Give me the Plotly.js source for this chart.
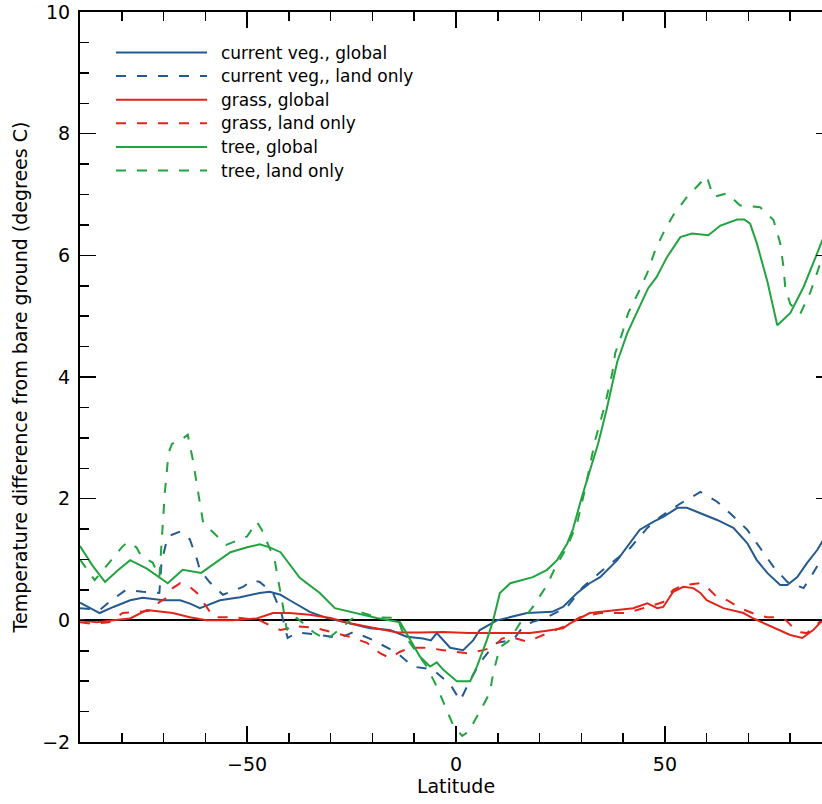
<!DOCTYPE html>
<html>
<head>
<meta charset="utf-8">
<script src="https://cdn.plot.ly/plotly-3.0.1.min.js"></script>
<style>
html,body{margin:0;padding:0;overflow:hidden;background:#fff;}
#chart{width:840px;height:804px;}
</style>
</head>
<body>
<div id="chart"></div>
<script>
// ---- data ----
const vegGlobalX = [-90,-87.5,-85.3,-82,-78,-75,-70,-66,-63.5,-61.3,-58.5,-56.5,-51.7,-47,-44.6,-42,-39.8,-35,-31,-26,-20.6,-15.8,-11.8,-7.9,-6,-4.6,-1.4,1.7,4.1,5.7,9.8,17,23,25.6,29,32,34.5,38.6,41,44,47.2,49.6,53,55.3,58.5,62.5,66.4,69.7,72,74.5,77.6,79.3,81.7,84,86.5,87.7,90];
const vegGlobalY = [0.29,0.2,0.12,0.22,0.33,0.37,0.33,0.33,0.27,0.2,0.27,0.33,0.38,0.45,0.47,0.42,0.33,0.14,0.04,-0.04,-0.13,-0.16,-0.27,-0.3,-0.33,-0.21,-0.45,-0.49,-0.33,-0.16,0.0,0.12,0.14,0.22,0.45,0.61,0.71,0.99,1.21,1.49,1.62,1.7,1.85,1.85,1.76,1.65,1.52,1.27,0.99,0.78,0.58,0.58,0.71,0.94,1.16,1.3,1.5];

const vegLandX = [-90,-85.3,-83,-79,-75,-71,-70.5,-69,-66,-63.7,-62,-61.3,-59,-55.8,-51,-48.6,-47,-43.8,-41.8,-40.3,-38,-32.6,-27.8,-24.5,-20,-14,-10.3,-5.5,-1.4,1,3.4,5.7,8.1,9.8,13.7,16,18.2,21.8,26.6,30.4,35.2,38.6,41.7,45.8,48.9,53.7,58.5,62.5,65.6,69.7,72.8,76,79.3,83.2,85.5,87.7,90];
const vegLandY = [0.2,0.17,0.3,0.5,0.47,0.45,0.95,1.38,1.46,1.33,1.0,0.83,0.63,0.42,0.55,0.66,0.63,0.45,0.12,-0.29,-0.2,-0.24,-0.29,-0.19,-0.32,-0.54,-0.76,-0.81,-1.05,-1.32,-0.98,-0.7,-0.49,-0.37,-0.32,-0.11,-0.03,0.05,0.22,0.55,0.83,1.02,1.19,1.52,1.7,1.92,2.11,1.95,1.76,1.49,1.19,0.88,0.63,0.53,0.78,1.04,1.3];

const grassGlobalX = [-90,-86,-82,-78,-74,-71,-67.8,-63.7,-59.7,-53.4,-47.7,-43.8,-39.8,-35,-30,-26,-20.6,-14,-8.6,-3.1,3,6.5,13,17.7,21.8,25.6,27.3,30,32,38.6,42.4,45.8,48.2,49.6,52,54.4,56.8,58.5,60,64,68.8,71.2,76,80,82.9,85.5,87.7,90];
const grassGlobalY = [0,-0.03,0,0.03,0.17,0.14,0.12,0.05,0,0,0.03,0.12,0.12,0.09,0.04,-0.04,-0.11,-0.2,-0.2,-0.19,-0.21,-0.21,-0.21,-0.21,-0.17,-0.13,-0.05,0.05,0.12,0.17,0.2,0.28,0.2,0.22,0.47,0.55,0.53,0.45,0.33,0.2,0.12,0.03,-0.11,-0.24,-0.29,-0.16,0,0.12];

const grassLandX = [-90,-87,-83,-79.8,-76,-73,-71,-69.3,-67.8,-66,-63.7,-62,-60,-58,-53,-47,-43.8,-42,-38,-34,-30,-25.4,-21.3,-18.2,-15.8,-13.5,-11,-7,-3.1,2.6,6.5,8.9,11,13,17,21.8,25.6,29.7,34.5,41,45,49.6,52,54.4,58.5,60,62.5,64.9,68,72,74.5,77.6,79,81.7,84,87,90];
const grassLandY = [-0.03,-0.06,-0.03,0.12,0.14,0.16,0.3,0.37,0.53,0.61,0.55,0.45,0.25,0.05,0.05,0.0,-0.11,-0.16,-0.1,-0.12,-0.19,-0.27,-0.37,-0.54,-0.62,-0.52,-0.45,-0.45,-0.49,-0.54,-0.49,-0.44,-0.3,-0.27,-0.35,-0.21,-0.11,0.05,0.12,0.12,0.2,0.3,0.5,0.58,0.61,0.55,0.38,0.33,0.2,0.09,0.05,0.05,0.0,-0.19,-0.21,-0.03,0.1];

const treeGlobalX = [-90,-87,-84,-81,-78,-74,-69,-65.4,-61,-57,-54,-50,-47,-44.6,-42,-37.4,-32.6,-29,-23.7,-19,-13.4,-11,-8.6,-6.2,-4.6,-3.1,0.2,3.4,5,7.4,8.9,10.5,13,18.4,21.8,24.2,26.6,28,30,32,34,36,38.6,41,44,46,48,50.5,53.7,56.5,60.4,63.3,67.3,69,70.4,72,74.5,76.9,80,83.2,85.5,87.7,90];
const treeGlobalY = [1.22,0.9,0.63,0.82,0.99,0.85,0.61,0.83,0.78,0.98,1.12,1.2,1.25,1.2,1.12,0.7,0.45,0.2,0.12,0.04,-0.03,-0.32,-0.6,-0.76,-0.69,-0.81,-1.0,-1.0,-0.76,-0.32,0.0,0.45,0.61,0.71,0.83,0.99,1.26,1.5,2.0,2.45,2.9,3.45,4.25,4.72,5.15,5.46,5.64,5.97,6.3,6.36,6.33,6.49,6.59,6.59,6.52,6.2,5.58,4.85,5.05,5.48,5.87,6.25,6.45];

const treeLandX = [-90,-88,-86.5,-83,-80,-78.6,-76.5,-75.3,-72.6,-71,-70.5,-69.7,-68.8,-68,-66,-64.2,-63,-62,-61.3,-60.5,-58,-55,-50,-47.7,-46.5,-43.4,-41.4,-40.5,-38.1,-34,-31,-27,-23,-19,-14,-12.7,-10.3,-7,-4.6,-2.6,-0.7,1.5,3,5.7,8.1,8.9,10.5,12.5,15.3,18.4,21.8,23.7,26.6,29,31,33.3,35.5,37.4,38.1,39.8,41.2,43.6,45.8,47.7,50,52,55.3,59.2,60,61.6,64.9,68,72.8,76,77.6,78.4,78.8,80,82.4,84.8,86.5,87.7,90];
const treeLandY = [1.0,0.8,0.66,0.95,1.2,1.29,1.2,1.05,0.95,0.71,1.33,2.1,2.75,2.9,2.96,3.05,2.64,2.26,1.93,1.6,1.44,1.24,1.38,1.62,1.49,0.99,0.22,-0.16,0.04,-0.2,-0.32,-0.1,0.14,0.05,0.04,-0.21,-0.44,-0.76,-1.09,-1.42,-1.72,-1.9,-1.83,-1.5,-1.19,-0.87,-0.44,-0.35,-0.05,0.22,0.58,0.86,1.21,1.6,2.19,2.96,3.5,4.06,4.39,4.72,5.05,5.38,5.71,6.09,6.42,6.66,6.96,7.24,7.3,6.96,7.02,6.82,6.79,6.58,6.2,5.8,5.48,5.2,5.04,5.39,5.75,5.97,6.2];

const seriesNames = ["current veg., global","current veg,, land only","grass, global","grass, land only","tree, global","tree, land only"];
const xTickVals = [-50,0,50];
const yTickVals = [-2,0,2,4,6,8,10];

// ---- styles ----
const BLUE = "#245a8f", RED = "#e3241b", GREEN = "#22a33f";
const DASH = "10px,11px";
const colors = [BLUE,BLUE,RED,RED,GREEN,GREEN];
const dashes = ["solid",DASH,"solid",DASH,"solid",DASH];
const xs = [vegGlobalX,vegLandX,grassGlobalX,grassLandX,treeGlobalX,treeLandX];
const ys = [vegGlobalY,vegLandY,grassGlobalY,grassLandY,treeGlobalY,treeLandY];

const traces = seriesNames.map((n,i)=>({
  type:"scatter", mode:"lines", name:n, x:xs[i], y:ys[i],
  line:{color:colors[i], width:2, dash:dashes[i]}, showlegend:false, hoverinfo:"skip"
}));

// manual legend (long line samples like the original)
const shapes = [], annotations = [];
const plotW = 752, plotH = 730;
seriesNames.forEach((n,i)=>{
  const py = 52.5 + i*23.6;          // pixel row from top of plot area
  const yp = 1 - (py-12)/plotH;
  shapes.push({type:"line", xref:"paper", yref:"paper",
    x0:(116-80)/plotW, x1:(207-80)/plotW, y0:yp, y1:yp,
    line:{color:colors[i], width:2, dash:dashes[i]}});
  annotations.push({xref:"paper", yref:"paper", x:(219-80)/plotW, y:yp,
    xanchor:"left", yanchor:"middle", text:n, showarrow:false,
    font:{family:"DejaVu Sans", size:17, color:"#000"}});
});

const axisCommon = {
  showline:true, linecolor:"#000", linewidth:2, mirror:"ticks",
  ticks:"inside", ticklen:16, tickwidth:1.5, tickcolor:"#000",
  showgrid:false, zeroline:false,
  tickfont:{family:"DejaVu Sans", size:19, color:"#000"}
};

const layout = {
  width:840, height:804,
  margin:{l:80, r:8, t:12, b:62},
  paper_bgcolor:"#fff", plot_bgcolor:"#fff",
  xaxis:Object.assign({}, axisCommon, {
    range:[-90,90], tickmode:"array", tickvals:xTickVals,
    minor:{dtick:10, ticks:"inside", ticklen:9, tickwidth:1.5, tickcolor:"#000"},
    ticklabelstandoff:4,
    title:{text:"Latitude", font:{family:"DejaVu Sans", size:19, color:"#000"}, standoff:6}
  }),
  yaxis:Object.assign({}, axisCommon, {
    range:[-2,10], tickmode:"array", tickvals:yTickVals,
    minor:{dtick:0.5, ticks:"inside", ticklen:9, tickwidth:1.5, tickcolor:"#000"},
    ticklabelstandoff:4,
    zeroline:true, zerolinecolor:"#000", zerolinewidth:2,
    title:{text:"Temperature difference from bare ground (degrees C)", font:{family:"DejaVu Sans", size:19, color:"#000"}, standoff:10}
  }),
  shapes:shapes, annotations:annotations, showlegend:false
};

Plotly.newPlot("chart", traces, layout, {displayModeBar:false, staticPlot:true});
</script>
</body>
</html>
